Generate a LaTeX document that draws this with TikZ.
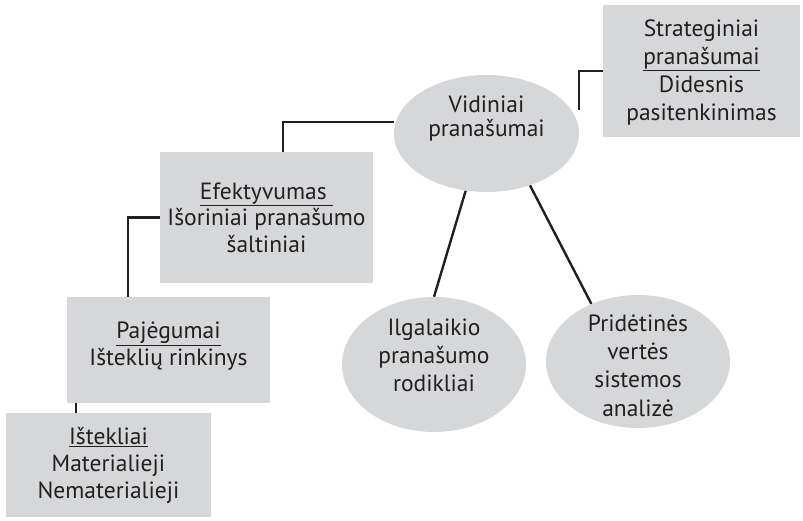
\documentclass[tikz,border=0pt]{standalone}
\usepackage{fontspec}
\setmainfont{PT Sans}
\usetikzlibrary{shapes.geometric,backgrounds}
\definecolor{panel}{RGB}{214,215,217}
\definecolor{ink}{RGB}{35,31,32}
\tikzset{
  box/.style={rectangle, fill=panel, draw=none, inner sep=0pt},
  bubble/.style={ellipse, fill=panel, draw=none, inner sep=0pt},
  caption/.style={align=center, text=ink, inner sep=0pt,
    font=\fontsize{23.5}{27}\selectfont},
  loose/.style={font=\fontsize{23.5}{28.3}\selectfont},
  link/.style={draw=ink, line width=2.4pt}
}
\begin{document}
\begin{tikzpicture}[x=1pt,y=-1pt]
\useasboundingbox (0,0) rectangle (803,520);
% resource blocks (rectangles)
\node[box, minimum width=205pt, minimum height=104pt] (ist) at (108.5,465) {};
\node[box, minimum width=203pt, minimum height=106pt] (paj) at (168.5,350) {};
\node[box, minimum width=213pt, minimum height=131pt] (efek) at (266.5,217.5) {};
\node[box, minimum width=197pt, minimum height=132pt] (strat) at (701.5,71) {};
% advantage bubbles (ellipses)
\node[bubble, minimum width=185pt, minimum height=117pt] (vid) at (486.5,133.5) {};
\node[bubble, minimum width=184pt, minimum height=135pt] (ilg) at (434,364.5) {};
\node[bubble, minimum width=184pt, minimum height=133pt] (prid) at (638,361.5) {};
% labels
\node[caption] (istT) at (ist.center) {\underline{Ištekliai}\\Materialieji\\Nematerialieji};
\node[caption] (pajT) at ([yshift=4pt]paj.center) {\underline{Pajėgumai}\\Išteklių rinkinys};
\node[caption, font=\fontsize{23.5}{26.5}\selectfont] (efekT) at (efek.center) {\underline{Efektyvumas~}\\Išoriniai pranašumo\\šaltiniai};
\node[caption, loose] (stratT) at ([yshift=-1.5pt]strat.center) {Strateginiai\\\underline{pranašumai}\\Didesnis\\pasitenkinimas};
\node[caption, font=\fontsize{23.5}{24.5}\selectfont] (vidT) at ([yshift=15pt]vid.center) {Vidiniai\\pranašumai};
\node[caption, loose] (ilgT) at ([yshift=9pt]ilg.center) {Ilgalaikio\\pranašumo\\rodikliai};
\node[caption, loose] (pridT) at ([yshift=-4pt]prid.center) {Pridėtinės\\vertės\\sistemos\\analizė};
% connectors
\begin{scope}[on background layer]
\draw[link] (ist.north -| 76,0) -- (paj.south -| 76,0);
\draw[link] (efek.west) -| (paj.north -| 128,0);
\draw[link] (efek.north -| 283,0) |- (vid.west |- 0,122);
\draw[link] (strat.west) -| (vid.east |- 0,110);
\draw[link] (vid.250) -- (ilg.north);
\draw[link] (vid.310) -- (prid.129);
\end{scope}
\end{tikzpicture}
\end{document}
